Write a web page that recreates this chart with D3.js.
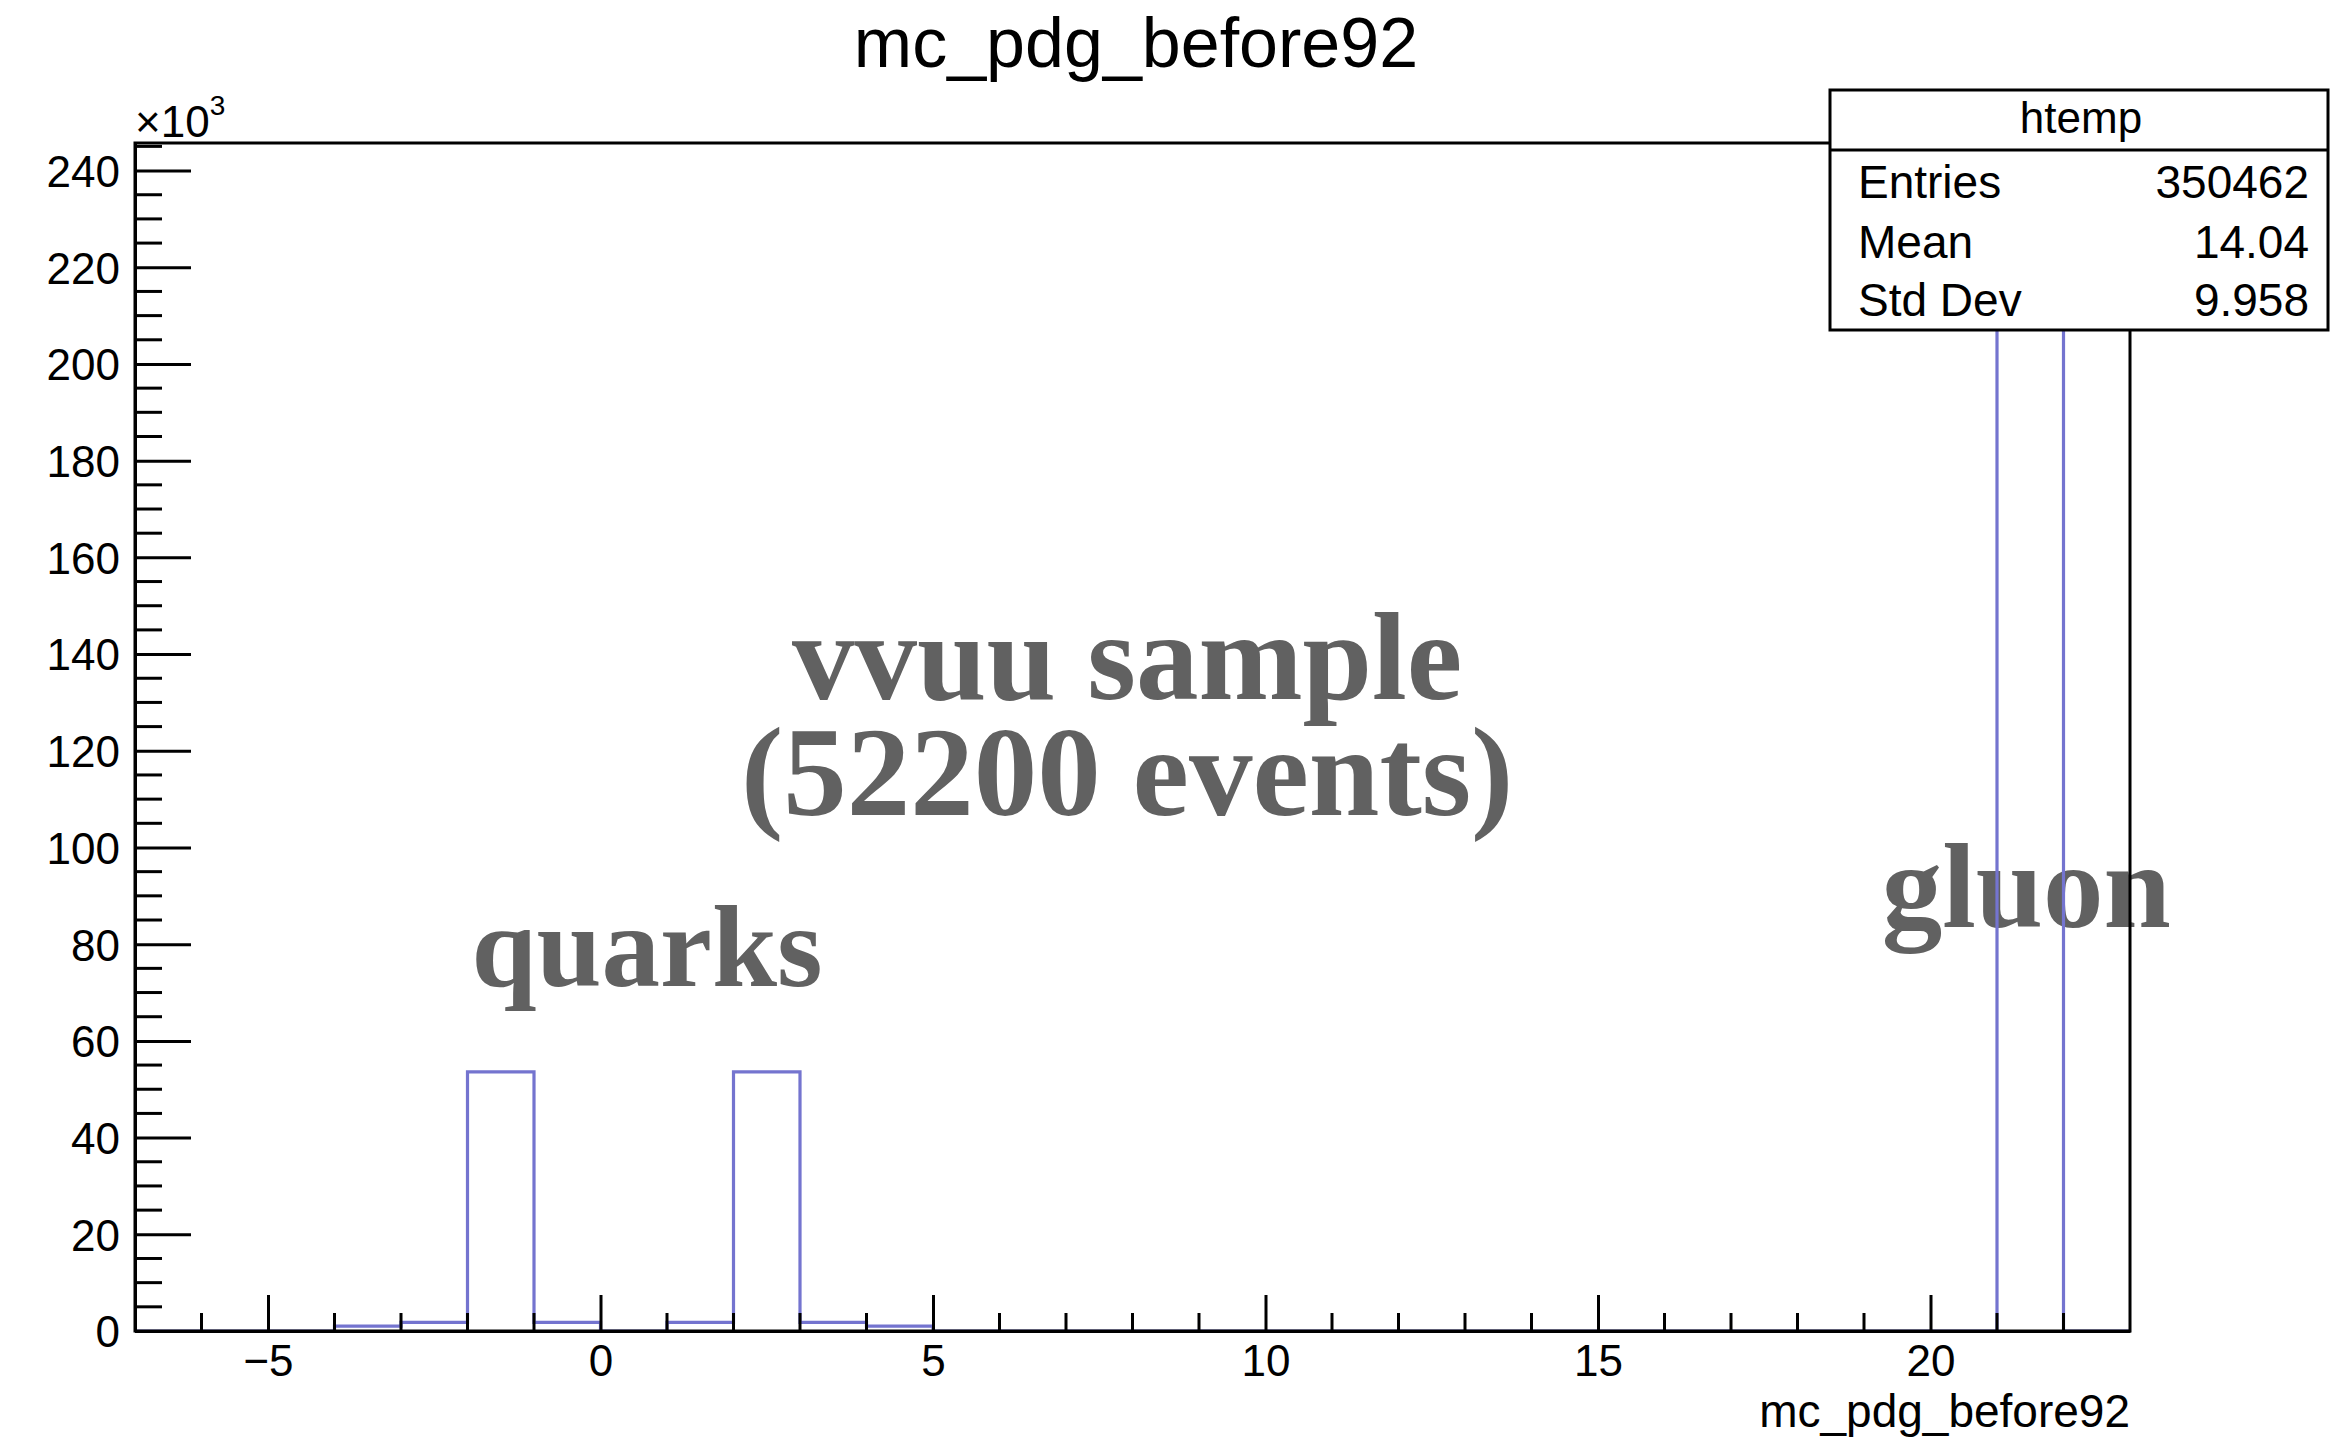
<!DOCTYPE html>
<html>
<head>
<meta charset="utf-8">
<script src="https://cdn.jsdelivr.net/npm/d3@7"></script>
<style>
  html, body { margin: 0; padding: 0; background: #ffffff; }
  svg { display: block; }
</style>
</head>
<body>
<svg id="chart" width="2331" height="1438"></svg>
<script>
// ---------------- data ----------------
const histTitle = "mc_pdg_before92";
const xAxisTitle = "mc_pdg_before92";
const binLowEdges = [-7,-6,-5,-4,-3,-2,-1,0,1,2,3,4,5,6,7,8,9,10,11,12,13,14,15,16,17,18,19,20,21,22];
const binWidth = 1;
const binCounts = [0,0,0,1000,1800,53600,1800,0,1800,53600,1800,1000,0,0,0,0,0,0,0,0,0,0,0,0,0,0,0,0,234200,0];
const xDomain = [-7, 23];
const yMax = 245700;
const xTickValues = [-5, 0, 5, 10, 15, 20];
const xTickLabels = ["\u22125", "0", "5", "10", "15", "20"];
const yTickValues = [0, 20000, 40000, 60000, 80000, 100000, 120000, 140000, 160000, 180000, 200000, 220000, 240000];
const yTickLabels = ["0","20","40","60","80","100","120","140","160","180","200","220","240"];
const statsHeader = "htemp";
const statsLabels = ["Entries", "Mean", "Std Dev"];
const statsValues = ["350462", "14.04", "9.958"];
// multi-line annotation: lines share one text block
const sampleLines = ["vvuu sample", "(52200 events)"];
const sampleLineSizes = [125, 127];
const samplePos = { x: 7.92, y: 130700 };
const annotations = [
  { text: "quarks", x: 0.7, y: 71300, size: 117 },
  { text: "gluon", x: 21.44, y: 83500, size: 121 }
];

// ---------------- layout ----------------
const svg = d3.select("#chart");
const frame = { left: 135, right: 2130, top: 143, bottom: 1331 };
const sans = "'Liberation Sans', Arial, Helvetica, sans-serif";
const serif = "'Liberation Serif', 'Times New Roman', serif";

const x = d3.scaleLinear().domain(xDomain).range([frame.left, frame.right]);
const y = d3.scaleLinear().domain([0, yMax]).range([frame.bottom, frame.top]);

// annotations (under the histogram)
const sample = svg.append("text")
  .attr("x", x(samplePos.x)).attr("y", y(samplePos.y))
  .attr("text-anchor", "middle")
  .attr("font-family", serif).attr("font-weight", "bold")
  .attr("fill", "#616161");
sample.selectAll("tspan").data(sampleLines).join("tspan")
  .attr("x", x(samplePos.x))
  .attr("dy", (d, i) => i === 0 ? 0 : 116)
  .attr("font-size", (d, i) => sampleLineSizes[i])
  .text(d => d);

svg.append("g").selectAll("text").data(annotations).join("text")
  .attr("x", d => x(d.x))
  .attr("y", d => y(d.y))
  .attr("text-anchor", "middle")
  .attr("font-family", serif)
  .attr("font-weight", "bold")
  .attr("font-size", d => d.size)
  .attr("fill", "#616161")
  .text(d => d.text);

// histogram outline
const pts = binLowEdges.map((e, i) => [e, binCounts[i]]);
pts.push([binLowEdges[binLowEdges.length - 1] + binWidth, binCounts[binCounts.length - 1]]);
const line = d3.line().x(d => x(d[0])).y(d => y(d[1])).curve(d3.curveStepAfter);
svg.append("path")
  .attr("d", line(pts))
  .attr("fill", "none")
  .attr("stroke", "#7474cf")
  .attr("stroke-width", 3.2);

// frame
svg.append("rect")
  .attr("x", frame.left).attr("y", frame.top)
  .attr("width", frame.right - frame.left)
  .attr("height", frame.bottom - frame.top)
  .attr("fill", "none").attr("stroke", "#000").attr("stroke-width", 3);

// minor ticks
const yMinor = d3.range(0, yMax, 5000).filter(v => v % 20000 !== 0);
svg.append("g").selectAll("line").data(yMinor).join("line")
  .attr("x1", frame.left).attr("x2", frame.left + 27)
  .attr("y1", d => y(d)).attr("y2", d => y(d))
  .attr("stroke", "#000").attr("stroke-width", 3);
const xMinor = d3.range(-6, 23, 1).filter(v => v % 5 !== 0);
svg.append("g").selectAll("line").data(xMinor).join("line")
  .attr("x1", d => x(d)).attr("x2", d => x(d))
  .attr("y1", frame.bottom).attr("y2", frame.bottom - 18)
  .attr("stroke", "#000").attr("stroke-width", 3);

// y axis
const yAxis = d3.axisLeft(y).tickValues(yTickValues)
  .tickFormat((d, i) => yTickLabels[i])
  .tickSizeInner(-56).tickSizeOuter(0).tickPadding(15);
const gy = svg.append("g").attr("transform", `translate(${frame.left},0)`).call(yAxis);
gy.select(".domain").attr("stroke", "#000").attr("stroke-width", 3);
gy.selectAll(".tick line").attr("stroke", "#000").attr("stroke-width", 3);
gy.selectAll(".tick text").attr("font-family", sans).attr("font-size", 44).attr("fill", "#000").attr("dy", "0.36em");

// x axis
const xAxis = d3.axisBottom(x).tickValues(xTickValues)
  .tickFormat((d, i) => xTickLabels[i])
  .tickSizeInner(-36).tickSizeOuter(0).tickPadding(14);
const gx = svg.append("g").attr("transform", `translate(0,${frame.bottom})`).call(xAxis);
gx.select(".domain").attr("stroke", "#000").attr("stroke-width", 3);
gx.selectAll(".tick line").attr("stroke", "#000").attr("stroke-width", 3);
gx.selectAll(".tick text").attr("font-family", sans).attr("font-size", 44).attr("fill", "#000");

// x10^3 multiplier
const mult = svg.append("text").attr("x", frame.left).attr("y", 137)
  .attr("font-family", sans).attr("font-size", 44).attr("fill", "#000");
mult.append("tspan").text("\u00d710");
mult.append("tspan").attr("font-size", 28).attr("dy", -22).text("3");

// title
svg.append("text").attr("x", 1136).attr("y", 67)
  .attr("text-anchor", "middle").attr("font-family", sans).attr("font-size", 70)
  .attr("fill", "#000").text(histTitle);

// x axis title
svg.append("text").attr("x", frame.right).attr("y", 1427)
  .attr("text-anchor", "end").attr("font-family", sans).attr("font-size", 46)
  .attr("fill", "#000").text(xAxisTitle);

// stats box
const sb = { left: 1830, right: 2328, top: 90, bottom: 330, divider: 150 };
svg.append("rect").attr("x", sb.left).attr("y", sb.top)
  .attr("width", sb.right - sb.left).attr("height", sb.bottom - sb.top)
  .attr("fill", "#fff").attr("stroke", "#000").attr("stroke-width", 3);
svg.append("line").attr("x1", sb.left).attr("x2", sb.right)
  .attr("y1", sb.divider).attr("y2", sb.divider)
  .attr("stroke", "#000").attr("stroke-width", 3);
svg.append("text").attr("x", (sb.left + sb.right) / 2 + 2).attr("y", 133)
  .attr("text-anchor", "middle").attr("font-family", sans).attr("font-size", 44)
  .attr("fill", "#000").text(statsHeader);
const rowY = [198, 258, 316];
svg.append("g").selectAll("text").data(statsLabels).join("text")
  .attr("x", 1858).attr("y", (d, i) => rowY[i])
  .attr("font-family", sans).attr("font-size", 46).attr("fill", "#000").text(d => d);
svg.append("g").selectAll("text").data(statsValues).join("text")
  .attr("x", 2309).attr("y", (d, i) => rowY[i]).attr("text-anchor", "end")
  .attr("font-family", sans).attr("font-size", 46).attr("fill", "#000").text(d => d);
</script>
</body>
</html>
